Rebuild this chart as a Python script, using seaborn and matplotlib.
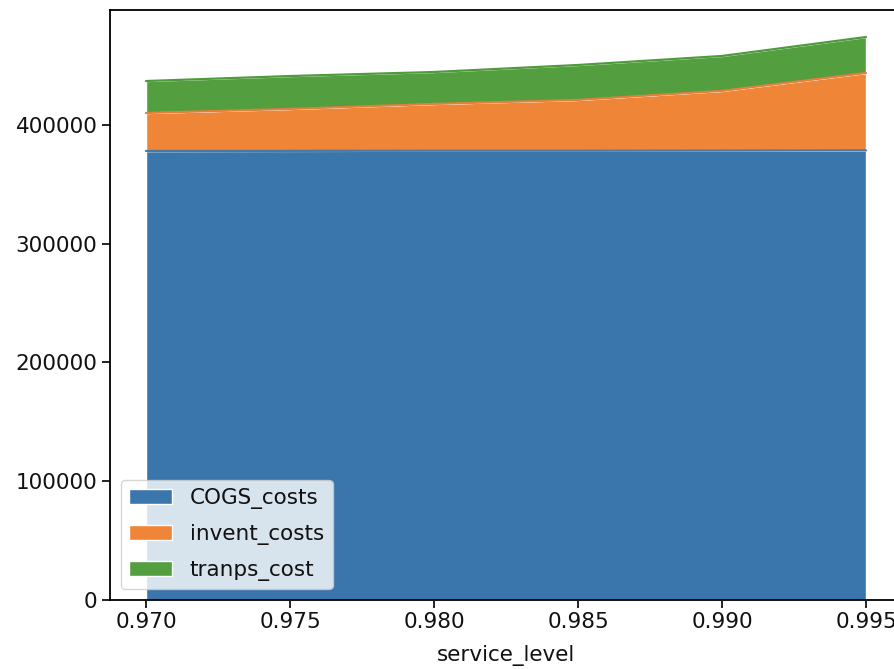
import matplotlib
matplotlib.use('Agg')
import matplotlib.pyplot as plt
import seaborn as sns
import numpy as np
import pandas as pd

# values
service_level = [0.970, 0.975, 0.980, 0.985, 0.990, 0.995]
cogs_costs = [378000, 378100, 378200, 378200, 378300, 378500]
invent_costs = [32000, 35300, 39400, 42800, 50300, 65200]
tranps_cost = [26900, 27700, 26900, 29400, 29400, 30250]

series_names = ['COGS_costs', 'invent_costs', 'tranps_cost']
fill_colors = ['#3a76ab', '#ef8536', '#539e3f']
line_colors = ['#4a7aa3', '#e4803a', '#4f9a3c']

df = pd.DataFrame({
    'service_level': service_level,
    'COGS_costs': cogs_costs,
    'invent_costs': invent_costs,
    'tranps_cost': tranps_cost,
})

sns.set_style('ticks')
plt.rcParams['font.family'] = ['DejaVu Sans']
plt.rcParams['font.size'] = 15.5
plt.rcParams['text.color'] = '#111111'
plt.rcParams['axes.labelcolor'] = '#111111'
plt.rcParams['xtick.color'] = '#111111'
plt.rcParams['ytick.color'] = '#111111'
plt.rcParams['axes.linewidth'] = 1.3
plt.rcParams['xtick.major.width'] = 1.3
plt.rcParams['ytick.major.width'] = 1.3
plt.rcParams['xtick.major.size'] = 5.5
plt.rcParams['ytick.major.size'] = 5.5

fig = plt.figure(figsize=(8.94, 6.69), dpi=100)
ax = fig.add_axes([110 / 894, 69 / 669, 792 / 894, 590 / 669])

# stacked areas
ax.stackplot(df['service_level'], df[series_names].T.values,
             colors=fill_colors, labels=series_names, alpha=1.0)

# boundary lines of the stacked series
cum = df[series_names].cumsum(axis=1)
for name, col in zip(series_names, line_colors):
    sns.lineplot(x=df['service_level'], y=cum[name], ax=ax, color=col,
                 linewidth=1.6, legend=False)

top = cum[series_names[-1]].max()
ax.set_xlim(0.96875, 0.99625)
ax.set_ylim(0, top * 1.048)
ax.set_xticks([0.970, 0.975, 0.980, 0.985, 0.990, 0.995])
ax.set_xlabel('service_level', labelpad=9)
ax.set_ylabel('')

for s in ax.spines.values():
    s.set_visible(True)
    s.set_color('black')

ax.legend(loc='lower left', fontsize=15.5, framealpha=0.8, labelspacing=0.68)

fig.savefig('out.png', dpi=100)
plt.close(fig)
